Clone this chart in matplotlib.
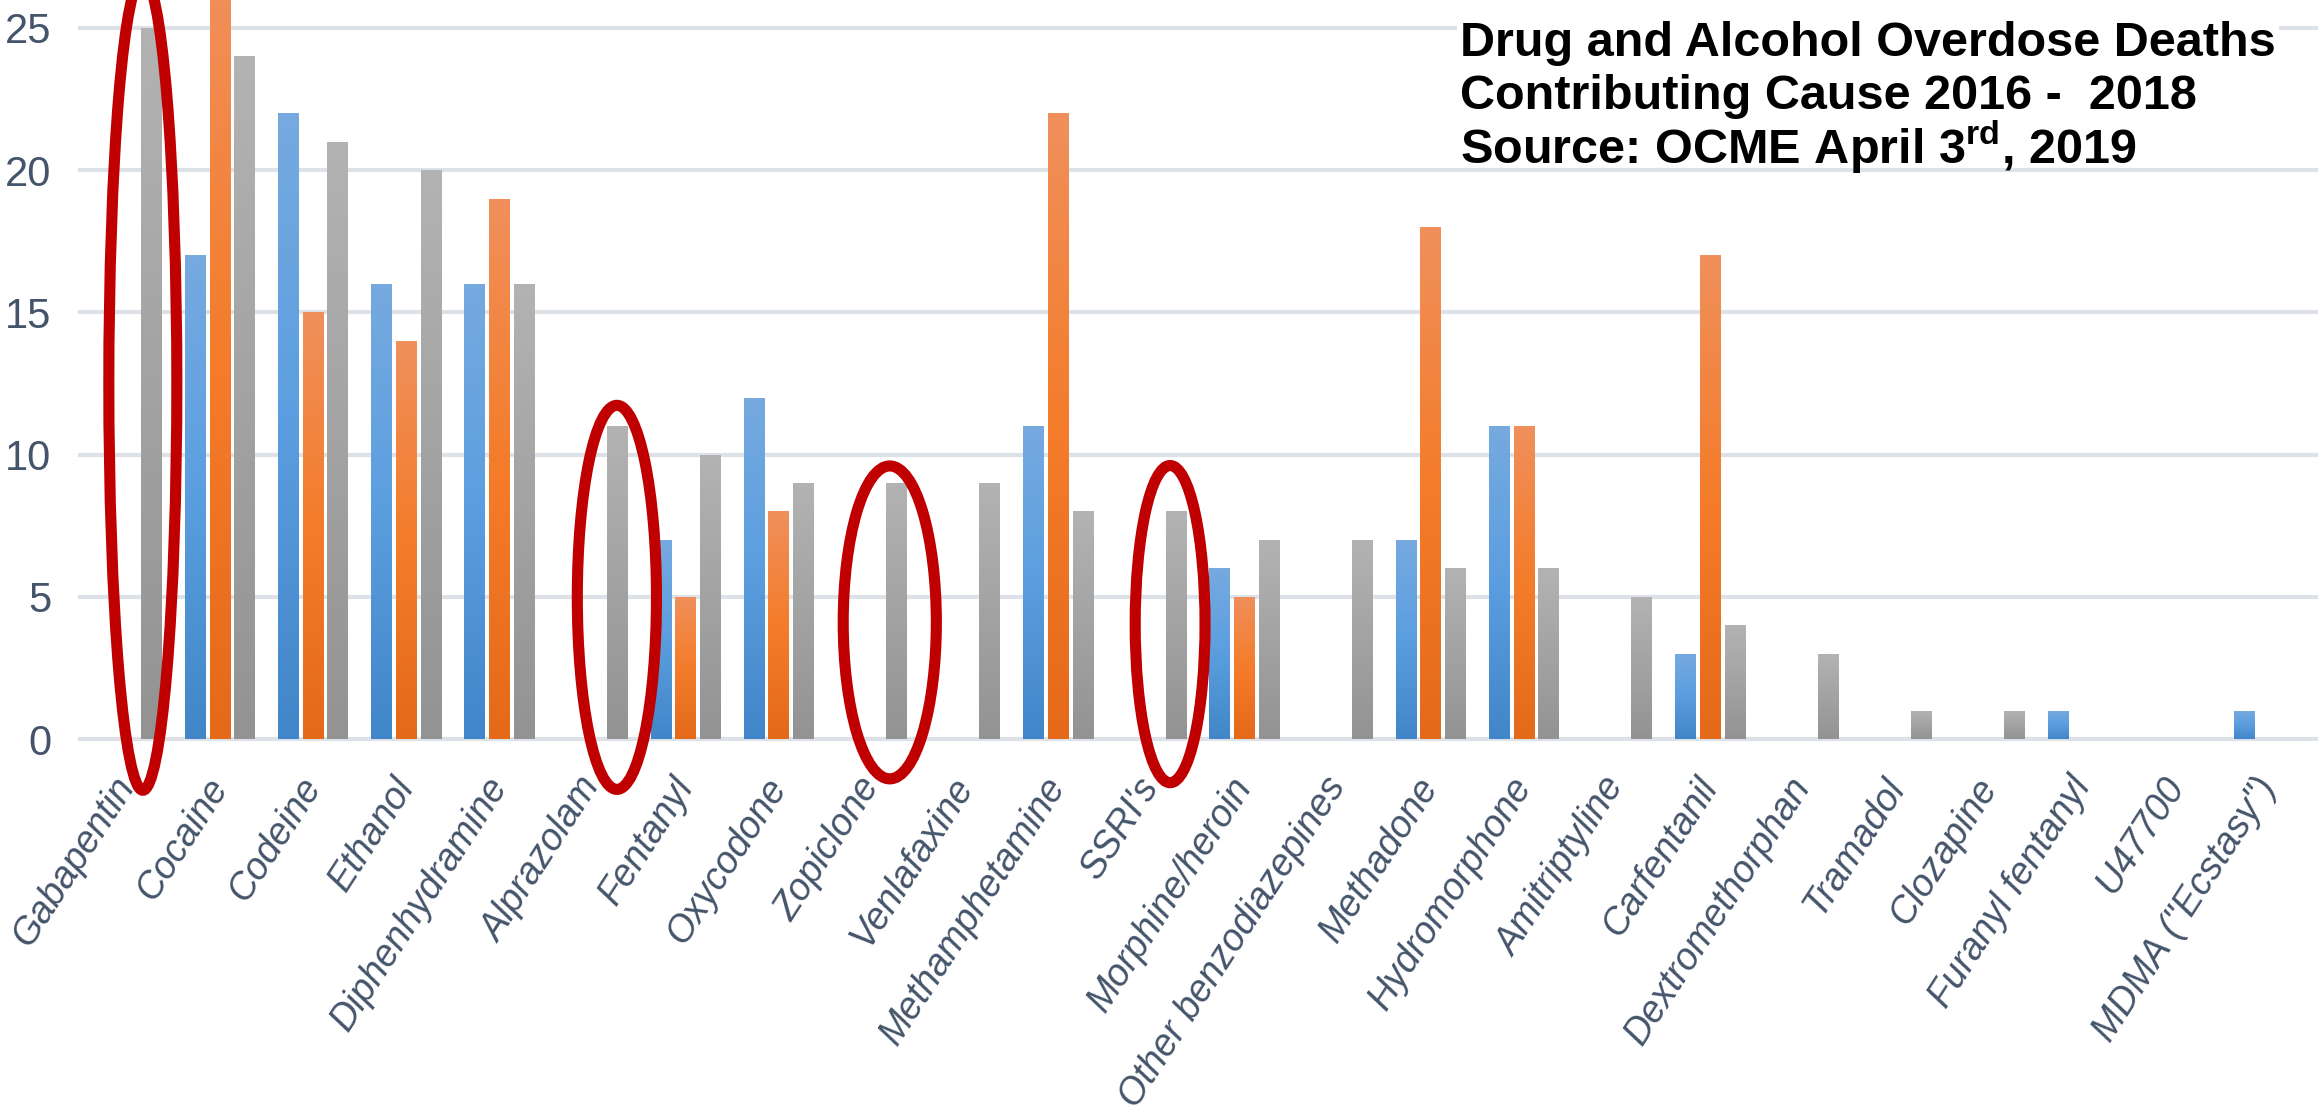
import numpy as np
import matplotlib
matplotlib.use("Agg")
import matplotlib.pyplot as plt
from matplotlib.patches import Ellipse
from matplotlib.colors import LinearSegmentedColormap

# overdose deaths, contributing cause, 2016-2018 (OCME)
categories = ["Gabapentin", "Cocaine", "Codeine", "Ethanol", "Diphenhydramine",
              "Alprazolam", "Fentanyl", "Oxycodone", "Zopiclone", "Venlafaxine",
              "Methamphetamine", "SSRI's", "Morphine/heroin", "Other benzodiazepines",
              "Methadone", "Hydromorphone", "Amitriptyline", "Carfentanil",
              "Dextromethorphan", "Tramadol", "Clozapine", "Furanyl fentanyl",
              "U47700", "MDMA (\"Ecstasy\")"]
y2016 = [0, 17, 22, 16, 16, 0, 7, 12, 0, 0, 11, 0, 6, 0, 7, 11, 0, 3, 0, 0, 0, 1, 0, 1]
y2017 = [0, 27, 15, 14, 19, 0, 5, 8, 0, 0, 22, 0, 5, 0, 18, 11, 0, 17, 0, 0, 0, 0, 0, 0]
y2018 = [25, 24, 21, 20, 16, 11, 10, 9, 9, 9, 8, 8, 7, 7, 6, 6, 5, 4, 3, 1, 1, 0, 0, 0]
yticks = [0, 5, 10, 15, 20, 25]

# red circles drawn on the slide: (category, x shift, y centre, width, height)
circled = [("Gabapentin", 0.17, 12.5, 0.73, 28.6),
           ("Alprazolam", 0.26, 4.98, 0.85, 13.5),
           ("Zopiclone", 0.19, 4.10, 1.0, 11.0),
           ("SSRI's", 0.20, 4.04, 0.75, 11.15)]

# gradients bottom -> top
grads = [["#4186c8", "#5b9ee0", "#76aadf"],
         ["#e46a1a", "#f47c2a", "#f0905c"],
         ["#939393", "#a3a3a3", "#b3b3b3"]]

label_col = "#44546a"
lab_font = ["Liberation Sans", "DejaVu Sans"]

plt.rcParams["mathtext.fontset"] = "custom"
plt.rcParams["mathtext.rm"] = "Liberation Sans"
plt.rcParams["mathtext.bf"] = "Liberation Sans:bold"

fig = plt.figure(figsize=(23.18, 11.14), dpi=100)
ax = fig.add_axes([0.0347, 0.3366, 0.9643, 0.6634])

x = np.arange(len(categories))
w = 0.225
step = 0.265
conts = []
for k, vals in enumerate([y2016, y2017, y2018]):
    c = ax.bar(x + (k - 1) * step, vals, w, color=grads[k][1], zorder=2)
    conts.append(c)

# vertical gradient per bar, clipped to the bar
grad_img = np.linspace(1, 0, 256).reshape(-1, 1)
for cont, stops in zip(conts, grads):
    cmap = LinearSegmentedColormap.from_list("g", stops)
    for bar in cont:
        h = bar.get_height()
        if h <= 0:
            continue
        x0 = bar.get_x()
        im = ax.imshow(grad_img, cmap=cmap, vmin=0, vmax=1, aspect="auto",
                       extent=(x0, x0 + bar.get_width(), 0, h), zorder=2.5)
        im.set_clip_path(bar)

ax.set_xlim(-0.5, len(categories) - 0.5)
ax.set_ylim(0, 25.98)
ax.set_yticks(yticks)
ax.set_yticklabels([str(t) for t in yticks], family=lab_font, fontsize=30, color=label_col)
ax.set_xticks(x)
ax.set_xticklabels(categories, rotation=57, ha="right", va="center",
                   rotation_mode="anchor", family=lab_font, style="italic",
                   fontsize=27, color=label_col)
ax.tick_params(axis="both", length=0)
ax.tick_params(axis="y", pad=21)
ax.tick_params(axis="x", pad=30)
for s in ax.spines.values():
    s.set_visible(False)
ax.set_axisbelow(True)
ax.yaxis.grid(True, color="#dde1e8", linewidth=3)
for gl in ax.get_ygridlines():
    gl.set_clip_on(False)

for name, dx, yc, ew, eh in circled:
    i = categories.index(name)
    ax.add_patch(Ellipse((i + dx, yc), ew, eh, fill=False, edgecolor="#c00000",
                         linewidth=8, clip_on=False, zorder=5))

title_font = ["Liberation Sans", "DejaVu Sans"]
box = dict(facecolor="white", edgecolor="none", pad=2)
fig.text(0.630, 0.9497, "Drug and Alcohol Overdose Deaths", fontsize=35, family=title_font,
         fontweight="bold", color="black", va="baseline", bbox=box)
fig.text(0.630, 0.902, "Contributing Cause 2016 -  2018", fontsize=35, family=title_font,
         fontweight="bold", color="black", va="baseline")
fig.text(0.630, 0.853, r"Source: OCME April 3$^{\mathbf{rd}}$, 2019", fontsize=35,
         family=title_font, fontweight="bold", color="black", va="baseline")

fig.savefig("out.png", dpi=100, facecolor="white")
